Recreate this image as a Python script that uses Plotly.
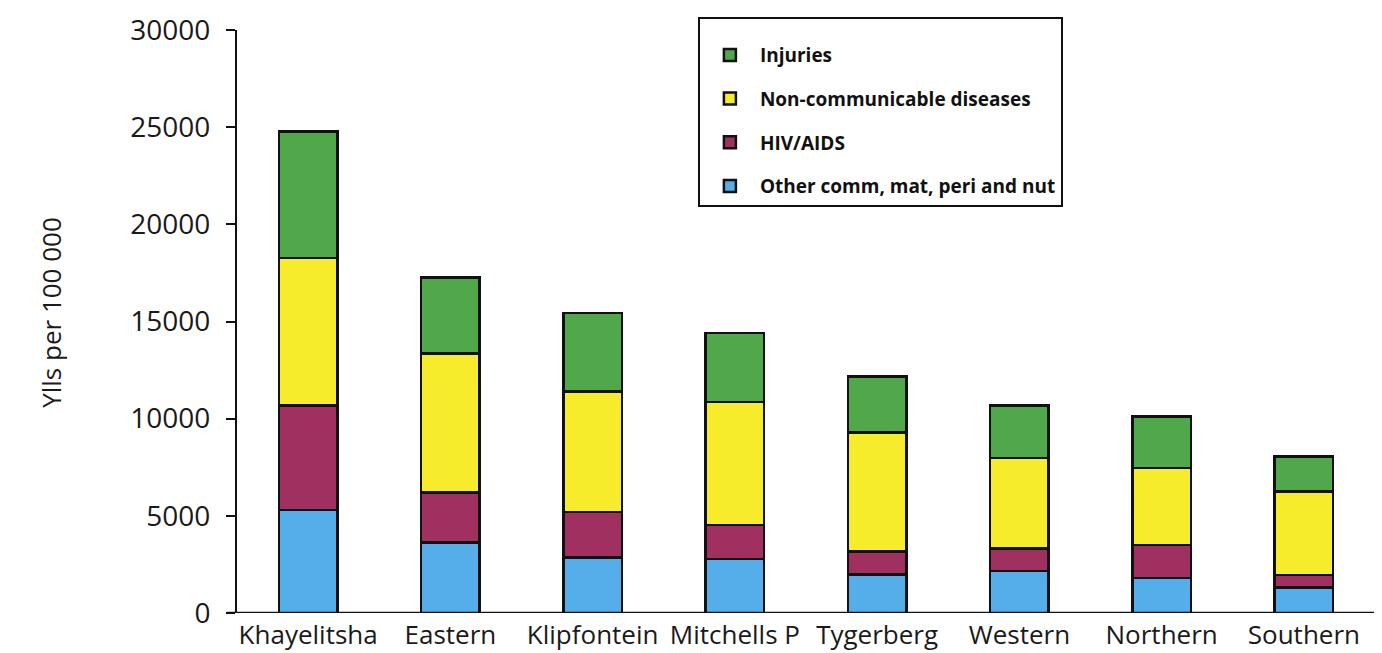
import plotly.graph_objects as go

districts = ["Khayelitsha", "Eastern", "Klipfontein", "Mitchells P",
             "Tygerberg", "Western", "Northern", "Southern"]
other_comm = [5310, 3620, 2860, 2770, 1990, 2160, 1790, 1320]
hiv_aids = [5360, 2570, 2340, 1770, 1170, 1170, 1710, 640]
non_comm = [7590, 7160, 6210, 6320, 6130, 4640, 3960, 4290]
injuries = [6510, 3920, 4030, 3550, 2890, 2700, 2660, 1810]
y_ticks = [0, 5000, 10000, 15000, 20000, 25000, 30000]

series = [
    ("Other comm, mat, peri and nut", other_comm, "#55ade9"),
    ("HIV/AIDS", hiv_aids, "#a0305f"),
    ("Non-communicable diseases", non_comm, "#f7ec2c"),
    ("Injuries", injuries, "#51a84b"),
]

fig = go.Figure()
for i, (name, vals, col) in enumerate(series):
    fig.add_trace(go.Bar(
        x=districts, y=vals, name=name, legendgroup=f"g{i}",
        legendrank=len(series) - i,
        marker=dict(color=col, line=dict(color="#111111", width=2.5)),
        width=0.41,
    ))

font_family = "Open Sans, Liberation Sans, sans-serif"

fig.update_layout(
    barmode="stack",
    width=1374, height=645,
    margin=dict(l=229, r=7, t=22, b=40),
    paper_bgcolor="white", plot_bgcolor="white",
    font=dict(family=font_family, color="#1a1a1a"),
    showlegend=True,
    legend=dict(
        x=0.405, y=1.022, xanchor="left", yanchor="top",
        traceorder="grouped", tracegroupgap=16,
        bordercolor="#111111", borderwidth=2, bgcolor="white",
        font=dict(size=19, family=font_family, color="#111111", weight="bold"),
        itemwidth=50,
        title=dict(text=" ", font=dict(size=13)),
    ),
)
fig.update_xaxes(
    range=[-0.5, 7.5], showline=False, ticks="",
    ticklabelstandoff=4, automargin=False,
    tickfont=dict(size=26, family=font_family, color="#1a1a1a"),
    fixedrange=True,
)
fig.update_yaxes(
    range=[0, 30000], tickvals=y_ticks, ticktext=[str(v) for v in y_ticks],
    showgrid=False, zeroline=False, showline=True, linecolor="#111111",
    linewidth=2, ticks="outside", ticklen=9, tickwidth=2, tickcolor="#111111",
    ticklabelstandoff=10,
    tickfont=dict(size=28, family=font_family, color="#1a1a1a"),
    automargin=False,
)
fig.add_annotation(
    text="Ylls per 100 000", textangle=-90, showarrow=False,
    xref="paper", yref="paper", x=-0.1634, y=0.515,
    xanchor="center", yanchor="middle",
    font=dict(size=26, family=font_family, color="#1a1a1a"),
)
fig.add_shape(type="line", xref="paper", yref="y", x0=-0.009, x1=1.0,
              y0=0, y1=0, line=dict(color="#111111", width=2.5))

fig.write_html("out.html")
